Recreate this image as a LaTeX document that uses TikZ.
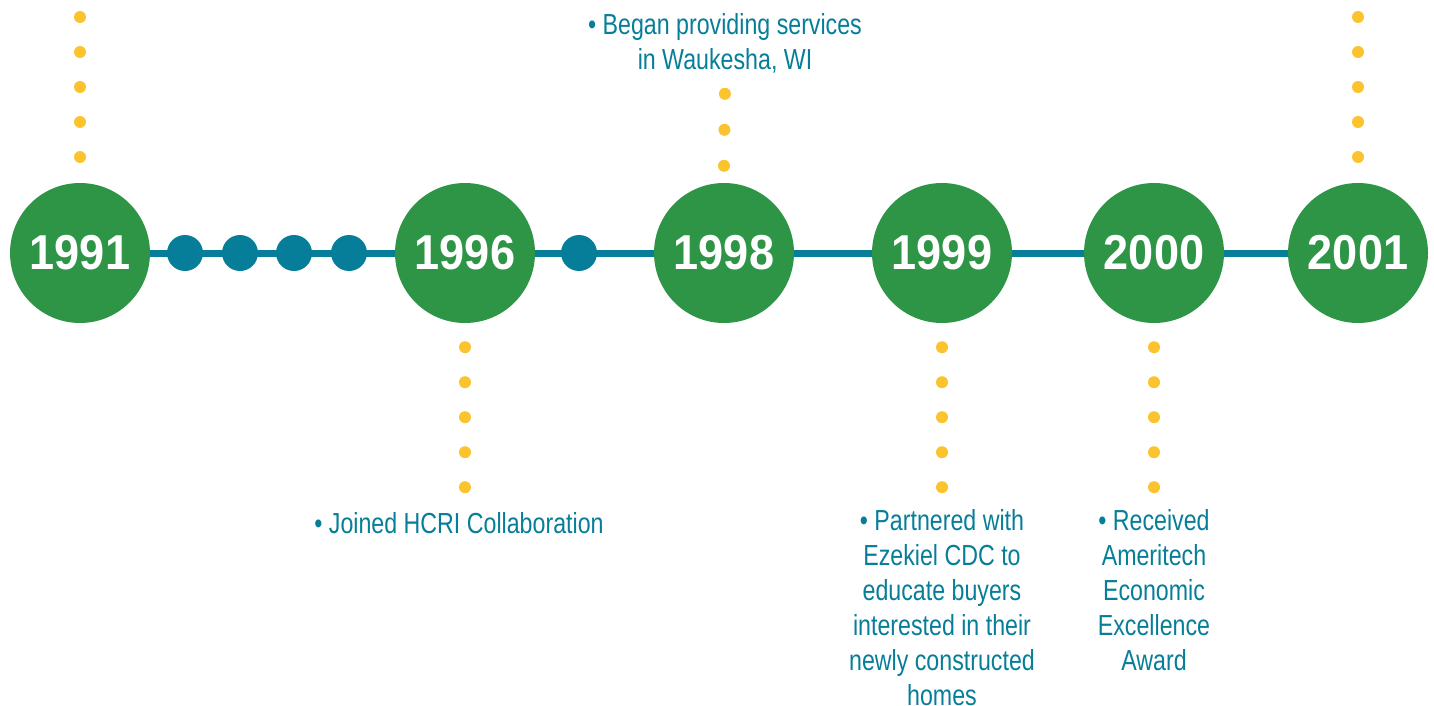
\documentclass[tikz,border=0pt]{standalone}
\usepackage{fontspec}
\usetikzlibrary{calc,backgrounds}
\setmainfont{Liberation Sans}[FakeStretch=0.8]
\newfontfamily\yearfont{Liberation Sans}[FakeStretch=0.92]
\definecolor{tlgreen}{RGB}{46,149,71}
\definecolor{tlteal}{RGB}{7,126,153}
\definecolor{tlyellow}{RGB}{251,195,45}
\begin{document}
\begin{tikzpicture}[x=1pt,y=-1pt,
  year/.style={circle,fill=tlgreen,minimum size=140pt,inner sep=0pt,text=white,
    font=\yearfont\bfseries\fontsize{49}{49}\selectfont},
  tdot/.style={circle,fill=tlteal,minimum size=36pt,inner sep=0pt},
  ydots/.style={draw=tlyellow,line width=12pt,line cap=round,dash pattern=on 0pt off 35pt},
  label/.style={text=tlteal,align=center,inner sep=0pt,font=\fontsize{29}{35}\selectfont}]
\useasboundingbox (0,0) rectangle (1434,706);
% year nodes
\node[year] (y1991) at (80,253) {1991};
\node[year] (y1996) at (465,253) {1996};
\node[year] (y1998) at (724,253) {1998};
\node[year] (y1999) at (942,253) {1999};
\node[year] (y2000) at (1154,253) {2000};
\node[year] (y2001) at (1358,253) {2001};
% main line
\begin{scope}[on background layer]
\draw[tlteal,line width=7pt] (y1991.center) -- (y2001.center);
\end{scope}
% teal dots
\node[tdot] (d1) at (185,253) {};
\node[tdot] (d2) at (240,253) {};
\node[tdot] (d3) at (294,253) {};
\node[tdot] (d4) at (349,253) {};
\node[tdot] (d5) at (579,253) {};
% labels
\node[label] (t1998) at (725,43) {\textbullet\ Began providing services\\in Waukesha, WI};
\node[label] (t1996) at (459,523) {\textbullet\ Joined HCRI Collaboration};
\node[label,anchor=north] (t1999) at (942,509) {\textbullet\ Partnered with\\Ezekiel CDC to\\educate buyers\\interested in their\\newly constructed\\homes};
\node[label,anchor=north] (t2000) at (1154,509) {\textbullet\ Received\\Ameritech\\Economic\\Excellence\\Award};
% yellow dotted connectors
\coordinate (top1991) at (80,17);
\coordinate (top2001) at (1358,17);
\draw[ydots] (top1991) -- ($(y1991.north)+(0,-23)$);
\draw[ydots] (top2001) -- ($(y2001.north)+(0,-23)$);
\draw[ydots,dash pattern=on 0pt off 36pt] ($(y1998.north)+(0,-17)$) -- ($(t1998.south)+(0,13)$);
\draw[ydots] ($(y1996.south)+(0,24)$) -- ($(y1996.south)+(0,167)$);
\draw[ydots] ($(y1999.south)+(0,24)$) -- ($(y1999.south)+(0,167)$);
\draw[ydots] ($(y2000.south)+(0,24)$) -- ($(y2000.south)+(0,167)$);
\end{tikzpicture}
\end{document}
